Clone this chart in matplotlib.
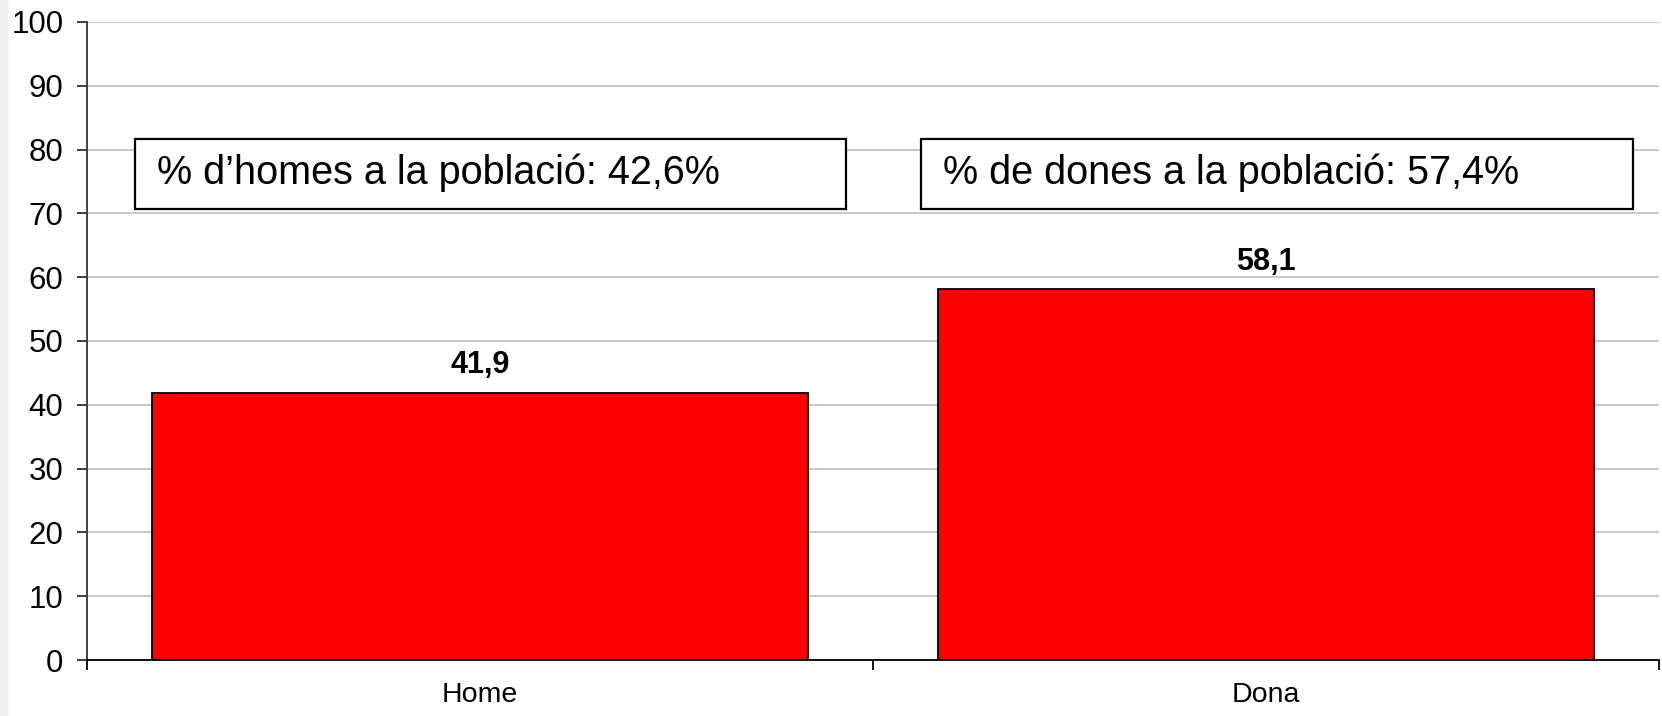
import matplotlib.pyplot as plt
from matplotlib.patches import Rectangle

plt.rcParams['font.family'] = ['Liberation Sans', 'DejaVu Sans']

categories = ['Home', 'Dona']
values = [41.9, 58.1]
value_labels = ['41,9', '58,1']
box_texts = ['% d\u2019homes a la població: 42,6%', '% de dones a la població: 57,4%']
y_ticks = [0, 10, 20, 30, 40, 50, 60, 70, 80, 90, 100]

fig = plt.figure(figsize=(16.62, 7.16), dpi=100)
fig.patches.append(Rectangle((0, 0), 0.004, 1, transform=fig.transFigure,
                             color='#eeeeee', zorder=0))
ax = fig.add_axes([0.0523, 0.0782, 0.9459, 0.8911])

x = list(range(len(categories)))
ax.bar(x, values, width=0.835, color='#ff0000', edgecolor='black', linewidth=1.3, zorder=3)

for xi, v, lab in zip(x, values, value_labels):
    ax.annotate(lab, (xi, v), xytext=(0, 14), textcoords='offset points',
                ha='center', va='baseline', fontsize=22, fontweight='bold')

# text boxes with population share
box_x = [(-0.439, 0.4656), (0.561, 1.467)]
for (x0, x1), txt in zip(box_x, box_texts):
    ax.add_patch(Rectangle((x0, 70.7), x1 - x0, 11.0, facecolor='white',
                           edgecolor='black', linewidth=1.6, zorder=4))
    ax.text(x0 + 0.028, 76.3, txt, ha='left', va='center', fontsize=28.5, zorder=5)

ax.set_xlim(-0.5, 1.5)
ax.set_ylim(0, 100)
ax.set_yticks(y_ticks)
ax.set_xticks(x)
ax.set_xticklabels(categories)
ax.set_xticks([-0.5, 0.5, 1.5], minor=True)
ax.tick_params(axis='x', which='major', length=0, pad=16, labelsize=20.5)
ax.tick_params(axis='x', which='minor', length=7, width=1.3, direction='out', color='black')
ax.tick_params(axis='y', length=7, width=1.3, pad=10, labelsize=22.5, color='#333333')

ax.yaxis.grid(True, color='#c8c8c8', linewidth=1.4, zorder=0)
ax.set_axisbelow(True)
for s in ['top', 'right']:
    ax.spines[s].set_visible(False)
ax.spines['left'].set_color('#333333')
ax.spines['left'].set_linewidth(1.3)
ax.spines['bottom'].set_color('black')
ax.spines['bottom'].set_linewidth(1.3)

fig.savefig('out.png', dpi=100)
